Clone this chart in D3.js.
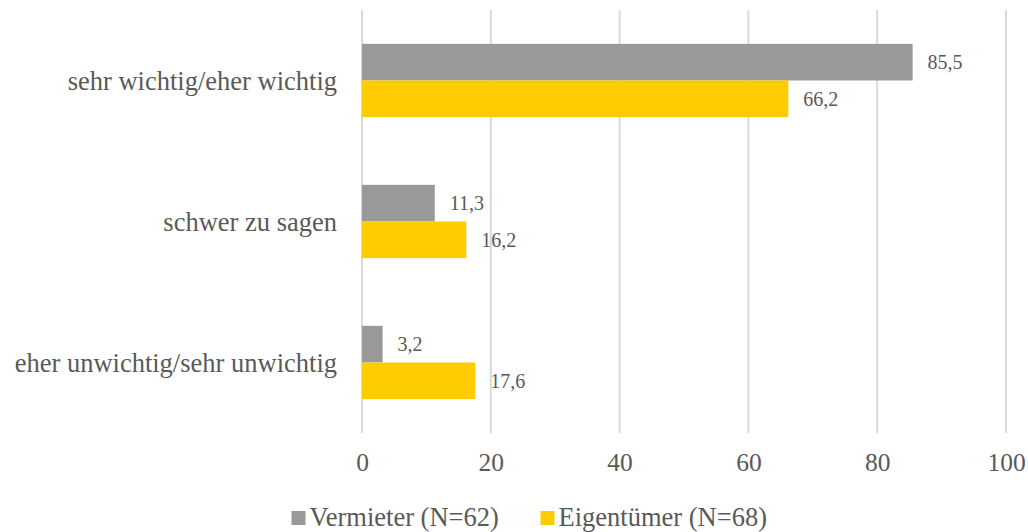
<!DOCTYPE html>
<html><head><meta charset="utf-8">
<script src="https://cdn.jsdelivr.net/npm/d3@7"></script>
<style>body{margin:0;background:#fff}svg{display:block}text{font-family:"Liberation Serif","Times New Roman",serif;fill:#595959}</style>
</head><body><svg id="c" width="1028" height="532"></svg>
<script>
const categories = ["sehr wichtig/eher wichtig", "schwer zu sagen", "eher unwichtig/sehr unwichtig"];
const seriesNames = ["Vermieter (N=62)", "Eigentümer (N=68)"];
const vermieter = [85.5, 11.3, 3.2];
const eigentuemer = [66.2, 16.2, 17.6];
const tickValues = [0, 20, 40, 60, 80, 100];
const colors = ["#999999", "#FFCC00"];

const series = [vermieter, eigentuemer];
const svg = d3.select("#c");
const m = {left: 362, right: 1006, top: 10, bottom: 433};
const x = d3.scaleLinear().domain([0, 100]).range([m.left, m.right]);
const y = d3.scaleBand().domain(categories).range([m.top, m.bottom]).paddingInner(0.48).paddingOuter(0.24);
const y1 = d3.scaleBand().domain(d3.range(series.length)).range([0, y.bandwidth()]);

// grid
svg.append("g").selectAll("line").data(tickValues).join("line")
  .attr("x1", d => x(d)).attr("x2", d => x(d))
  .attr("y1", m.top).attr("y2", m.bottom)
  .attr("stroke", "#d9d9d9").attr("stroke-width", 2);

// axis tick labels
const ax = svg.append("g").attr("transform", `translate(0,${m.bottom})`)
  .call(d3.axisBottom(x).tickValues(tickValues).tickSize(0).tickPadding(20).tickFormat(d3.format("d")));
ax.select(".domain").remove();
ax.selectAll("text").attr("font-size", 25.5).attr("font-family", "Liberation Serif").attr("fill", "#595959");

// bars
const fmt = v => String(v.toFixed(1)).replace(".", ",");
categories.forEach((c, i) => {
  series.forEach((s, j) => {
    const v = s[i];
    svg.append("rect")
      .attr("x", x(0)).attr("y", y(c) + y1(j))
      .attr("width", x(v) - x(0)).attr("height", y1.bandwidth())
      .attr("fill", colors[j]);
    svg.append("text")
      .attr("x", x(v) + 15).attr("y", y(c) + y1(j) + y1.bandwidth() / 2)
      .attr("dy", "0.35em").attr("font-size", 20).text(fmt(v));
  });
});

// category labels
svg.append("g").selectAll("text").data(categories).join("text")
  .attr("x", m.left - 25).attr("y", d => y(d) + y.bandwidth() / 2)
  .attr("dy", "0.35em").attr("text-anchor", "end").attr("font-size", 26.5).text(d => d);

// legend
const legX = [291.5, 540.5];
seriesNames.forEach((n, j) => {
  svg.append("rect").attr("x", legX[j]).attr("y", 511).attr("width", 14).attr("height", 14).attr("fill", colors[j]);
  svg.append("text").attr("x", legX[j] + 18).attr("y", 526).attr("font-size", 26.5).text(n);
});
</script></body></html>
